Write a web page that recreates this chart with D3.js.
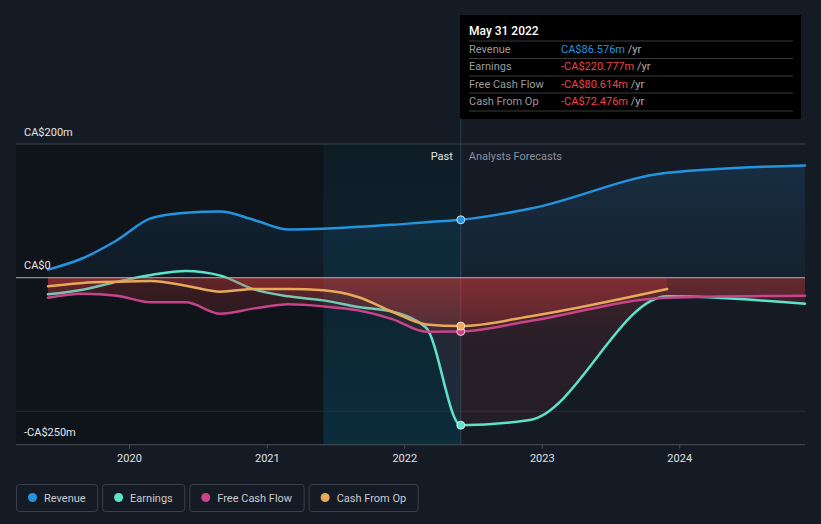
<!DOCTYPE html>
<html><head><meta charset="utf-8">
<script src="https://cdn.jsdelivr.net/npm/d3@7"></script>
<style>
html,body{margin:0;padding:0;background:#151b25;}
svg{display:block;font-family:Roboto,"Noto Sans",sans-serif;}
</style></head><body>
<svg id="chart" width="821" height="524"></svg>
<script>
// ---- data ----
const pastDates = ["2019-05-31","2019-08-31","2019-11-30","2020-02-29","2020-05-31","2020-08-31","2020-11-30","2021-02-28","2021-05-31","2021-08-31","2021-11-30","2022-02-28","2022-05-31"];
const forecastDates = ["2022-05-31","2022-11-30","2023-11-30","2024-11-30"];
const revenuePast = [12,29,56,89,97,99,86,72,73,76,79,83,86.576];
const revenueForecast = [86.576,103,157,168];
const earningsPast = [-25,-18,-6,4,10,3,-18,-28,-34,-44,-51,-75,-220.777];
const earningsForecast = [-220.777,-213,-28,-39];
const fcfPast = [-30,-24,-27,-37,-37,-54,-46,-40,-43,-49,-62,-81,-80.614];
const fcfForecast = [-80.614,-65,-30,-27];
const cfoPast = [-13,-8,-6,-5,-12,-21,-17,-17,-19,-29,-51,-70,-72.476];
const cfoForecast = [-72.476,-58,-17];
const seriesNames = ["Revenue","Earnings","Free Cash Flow","Cash From Op"];
const seriesColors = ["#2394df","#5ee3cb","#c8448a","#e8aa5a"];
const yTickValues = [200,0,-250];
const yTickLabels = ["CA$200m","CA$0","-CA$250m"];
const tooltipDate = "May 31 2022";
const tooltipValues = ["CA$86.576m","-CA$220.777m","-CA$80.614m","-CA$72.476m"];

// ---- setup ----
const parse = d3.timeParse("%Y-%m-%d");
const svg = d3.select("#chart");
const plotLeft = 16, plotRight = 805, plotTop = 144, plotBottom = 444.7;
const x = d3.scaleTime().domain([parse("2019-05-31"), parse("2024-11-30")]).range([48, 805]);
const y = d3.scaleLinear().domain([-250, 200]).range([plotBottom, plotTop]);

const defs = svg.append("defs");
const redGrad = defs.append("linearGradient").attr("id","redGrad").attr("gradientUnits","userSpaceOnUse")
  .attr("x1",0).attr("x2",0).attr("y1",y(0)).attr("y2",plotBottom);
redGrad.append("stop").attr("offset",0).attr("stop-color","#e8403f").attr("stop-opacity",0.21);
redGrad.append("stop").attr("offset",0.35).attr("stop-color","#e8403f").attr("stop-opacity",0.1);
redGrad.append("stop").attr("offset",1).attr("stop-color","#e8403f").attr("stop-opacity",0.06);
const blueGrad = defs.append("linearGradient").attr("id","blueGrad").attr("gradientUnits","userSpaceOnUse")
  .attr("x1",0).attr("x2",0).attr("y1",plotTop).attr("y2",y(0));
blueGrad.append("stop").attr("offset",0).attr("stop-color","#2394df").attr("stop-opacity",0.17);
blueGrad.append("stop").attr("offset",1).attr("stop-color","#2394df").attr("stop-opacity",0.05);
const hiGrad = defs.append("linearGradient").attr("id","hiGrad").attr("gradientUnits","userSpaceOnUse")
  .attr("x1",0).attr("x2",0).attr("y1",plotTop).attr("y2",plotBottom);
hiGrad.append("stop").attr("offset",0).attr("stop-color","#0096c8").attr("stop-opacity",0.06);
hiGrad.append("stop").attr("offset",1).attr("stop-color","#0096c8").attr("stop-opacity",0.19);

// past dark region and last-year highlight
const xNow = x(parse("2022-05-31"));
const xHi = x(parse("2021-05-31"));
svg.append("rect").attr("x",plotLeft).attr("y",plotTop).attr("width",xNow-plotLeft).attr("height",plotBottom-plotTop)
  .attr("fill","#000").attr("opacity",0.25);
svg.append("rect").attr("x",xHi).attr("y",plotTop).attr("width",xNow-xHi).attr("height",plotBottom-plotTop)
  .attr("fill","url(#hiGrad)");

// gridlines
svg.append("line").attr("x1",plotLeft).attr("x2",plotRight).attr("y1",y(200)).attr("y2",y(200)).attr("stroke","#3d424b");
svg.append("line").attr("x1",plotLeft).attr("x2",plotRight).attr("y1",y(-200)).attr("y2",y(-200)).attr("stroke","#2a2f37");

// divider line
svg.append("line").attr("x1",xNow).attr("x2",xNow).attr("y1",15).attr("y2",plotBottom)
  .attr("stroke","#3a5a6a").attr("stroke-opacity",0.6);

// series
const series = [
  {past: revenuePast, fc: revenueForecast},
  {past: earningsPast, fc: earningsForecast},
  {past: fcfPast, fc: fcfForecast},
  {past: cfoPast, fc: cfoForecast}
];
series.forEach(s=>{
  s.pts = pastDates.map((d,j)=>({d:parse(d), v:s.past[j]}))
    .concat(s.fc.slice(1).map((v,j)=>({d:parse(forecastDates[j+1]), v})));
});
const curve = d3.curveMonotoneX;
series.forEach((s,i)=>{
  const area = d3.area().curve(curve).x(p=>x(p.d)).y0(y(0))
    .y1(p=> i===0 ? y(p.v) : y(Math.min(p.v,0)));
  svg.append("path").datum(s.pts).attr("d",area).attr("fill", i===0 ? "url(#blueGrad)" : "url(#redGrad)");
  const line = d3.line().curve(curve).x(p=>x(p.d)).y(p=>y(p.v));
  svg.append("path").datum(s.pts).attr("d",line).attr("fill","none")
    .attr("stroke",seriesColors[i]).attr("stroke-width",2.5).attr("stroke-linecap","round");
});

// zero line
svg.append("line").attr("x1",plotLeft).attr("x2",plotRight).attr("y1",y(0)).attr("y2",y(0))
  .attr("stroke","#b8b8b8").attr("stroke-opacity",0.75).attr("stroke-width",1.2);

// dots
series.forEach((s,i)=>{
  svg.append("circle").attr("cx",xNow).attr("cy",y(s.past[s.past.length-1])).attr("r",4)
    .attr("fill",seriesColors[i]).attr("stroke","#ffffff").attr("stroke-opacity",0.75).attr("stroke-width",1);
});

// y labels
yTickValues.forEach((v,i)=>{
  svg.append("text").attr("x",24).attr("y", v===-250 ? y(v)-9 : y(v)-8.5)
    .attr("fill","#e6e6e6").attr("font-size",11).text(yTickLabels[i]);
});

// x axis
const xAxis = d3.axisBottom(x).ticks(d3.timeYear.every(1)).tickFormat(d3.timeFormat("%Y")).tickSize(4).tickSizeOuter(0);
const gx = svg.append("g").attr("transform",`translate(0,${plotBottom})`).call(xAxis);
gx.select(".domain").remove();
gx.selectAll(".tick line").attr("stroke","#4a4f58");
gx.selectAll(".tick text").attr("fill","#e0e0e0").attr("font-size",11).attr("font-family","Roboto").attr("dy","0.9em");
svg.append("line").attr("x1",plotLeft).attr("x2",plotRight).attr("y1",plotBottom).attr("y2",plotBottom).attr("stroke","#4a4f58");

// Past / Forecast labels
svg.append("text").attr("x",xNow-8).attr("y",160).attr("text-anchor","end").attr("fill","#e6e6e6").attr("font-size",11).text("Past");
svg.append("text").attr("x",xNow+8).attr("y",160).attr("fill","#8b9099").attr("font-size",11).text("Analysts Forecasts");

// tooltip
const tt = svg.append("g");
tt.append("rect").attr("x",460).attr("y",15).attr("width",341).attr("height",104).attr("fill","#000");
tt.append("text").attr("x",469).attr("y",34.5).attr("fill","#ffffff").attr("font-size",12).attr("font-weight",500).text(tooltipDate);
const sepY = [41, 58.5, 76, 93, 111];
sepY.forEach(yy=> tt.append("line").attr("x1",469).attr("x2",793).attr("y1",yy).attr("y2",yy).attr("stroke","#3a3a3a"));
const rowY = [52.5, 70, 87.5, 105];
seriesNames.forEach((n,i)=>{
  tt.append("text").attr("x",469).attr("y",rowY[i]).attr("fill","#9a9a9a").attr("font-size",11).text(n);
  const t = tt.append("text").attr("x",561).attr("y",rowY[i]).attr("font-size",11);
  t.append("tspan").attr("fill", i===0 ? "#2394df" : "#ef4444").text(tooltipValues[i]);
  t.append("tspan").attr("fill","#b0b0b0").text(" /yr");
});

// legend
let lx = 16.5;
seriesNames.forEach((n,i)=>{
  const g = svg.append("g");
  const txt = g.append("text").attr("x",lx+27.5).attr("y",501.5).attr("fill","#c9cbd0").attr("font-size",11).text(n);
  const tw = txt.node().getComputedTextLength();
  const w = 27.5 + tw + 12;
  g.insert("rect","text").attr("x",lx).attr("y",484.5).attr("width",w).attr("height",27).attr("rx",3)
    .attr("fill","none").attr("stroke","#3b404a");
  g.append("circle").attr("cx",lx+16).attr("cy",497.5).attr("r",4.5).attr("fill",seriesColors[i]);
  lx += w + 5;
});
</script>
</body></html>
